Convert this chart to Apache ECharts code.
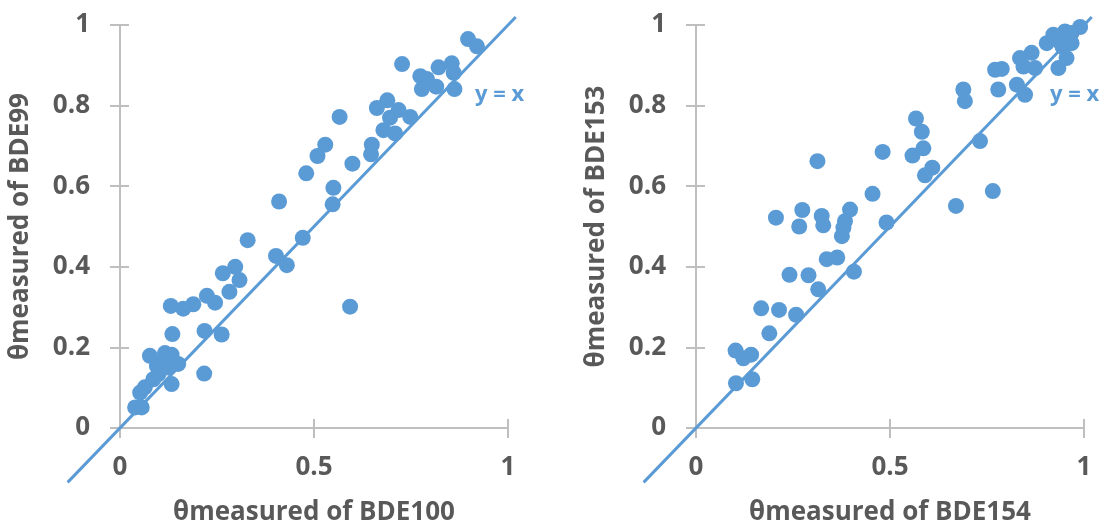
<!DOCTYPE html>
<html>
<head>
<meta charset="utf-8">
<script src="https://cdn.jsdelivr.net/npm/echarts@6/dist/echarts.min.js"></script>
<style>
  html, body { margin: 0; padding: 0; background: #fff; }
  #chart { width: 1108px; height: 531px; }
</style>
</head>
<body>
<div id="chart"></div>
<script>
// left panel: BDE100 (x) vs BDE99 (y)
const bde100 = [0.897, 0.92, 0.727, 0.855, 0.821, 0.774, 0.791, 0.86, 0.778, 0.815, 0.862, 0.689, 0.662, 0.566, 0.718, 0.696, 0.748, 0.679, 0.709, 0.529, 0.509, 0.649, 0.647, 0.48, 0.599, 0.55, 0.41, 0.548, 0.471, 0.329, 0.402, 0.43, 0.297, 0.265, 0.308, 0.282, 0.224, 0.245, 0.131, 0.163, 0.189, 0.593, 0.135, 0.218, 0.262, 0.077, 0.116, 0.133, 0.15, 0.095, 0.217, 0.133, 0.103, 0.086, 0.064, 0.052, 0.039, 0.056, 0.112, 0.099, 0.12, 0.105, 0.125];
const bde99 = [0.965, 0.947, 0.903, 0.905, 0.895, 0.873, 0.866, 0.881, 0.841, 0.847, 0.841, 0.813, 0.794, 0.772, 0.789, 0.77, 0.772, 0.739, 0.731, 0.703, 0.675, 0.703, 0.679, 0.632, 0.656, 0.596, 0.562, 0.555, 0.472, 0.466, 0.427, 0.404, 0.40, 0.384, 0.367, 0.338, 0.328, 0.311, 0.303, 0.296, 0.307, 0.301, 0.233, 0.241, 0.232, 0.179, 0.186, 0.182, 0.159, 0.154, 0.135, 0.109, 0.142, 0.121, 0.101, 0.088, 0.051, 0.051, 0.167, 0.134, 0.175, 0.16, 0.15];

// right panel: BDE154 (x) vs BDE153 (y)
const bde154 = [0.99, 0.921, 0.951, 0.968, 0.904, 0.938, 0.968, 0.955, 0.934, 0.865, 0.835, 0.844, 0.874, 0.771, 0.788, 0.827, 0.848, 0.779, 0.689, 0.693, 0.567, 0.582, 0.732, 0.481, 0.586, 0.558, 0.313, 0.609, 0.59, 0.765, 0.455, 0.67, 0.206, 0.274, 0.266, 0.324, 0.328, 0.397, 0.384, 0.38, 0.376, 0.491, 0.337, 0.364, 0.407, 0.241, 0.29, 0.315, 0.168, 0.214, 0.258, 0.189, 0.102, 0.122, 0.142, 0.103, 0.145, 0.96, 0.945];
const bde153 = [0.995, 0.976, 0.984, 0.98, 0.955, 0.959, 0.955, 0.918, 0.893, 0.931, 0.918, 0.897, 0.893, 0.889, 0.891, 0.852, 0.827, 0.84, 0.84, 0.811, 0.768, 0.735, 0.712, 0.685, 0.694, 0.676, 0.662, 0.646, 0.627, 0.588, 0.581, 0.551, 0.522, 0.541, 0.50, 0.526, 0.503, 0.542, 0.513, 0.497, 0.476, 0.51, 0.419, 0.423, 0.388, 0.38, 0.379, 0.344, 0.297, 0.293, 0.281, 0.235, 0.192, 0.173, 0.182, 0.111, 0.121, 0.965, 0.945];

// y = x reference line runs from lineEnds[0] to lineEnds[1]
const lineEnds = [-0.135, 1.02];

const xTicks = ['0', '0.5', '1'];
const yTicks = ['0', '0.2', '0.4', '0.6', '0.8', '1'];

const blue = '#5B9BD5';
const gray = '#BFBFBF';
const textGray = '#595959';
const font = 'Open Sans';

const zip = (xs, ys) => xs.map((x, i) => [x, ys[i]]);

const labelStyle = { fontSize: 26, fontWeight: 'bold', color: textGray, fontFamily: font };
const nameStyle = { fontSize: 26, fontWeight: 'bold', color: textGray, fontFamily: font };

function xAxes(gridIndex, name) {
  const base = { gridIndex, type: 'value', min: 0, max: 1, interval: 0.5, splitLine: { show: false } };
  return [
    {
      ...base,
      axisLine: { show: true, onZero: false, lineStyle: { color: gray, width: 2 } },
      axisTick: { show: true, length: 10, lineStyle: { color: gray, width: 2 } },
      axisLabel: { ...labelStyle, margin: 27, formatter: (v) => xTicks[Math.round(v / 0.5)] },
      name, nameLocation: 'middle', nameGap: 72, nameTextStyle: nameStyle
    },
    {
      ...base,
      position: 'bottom',
      axisLine: { show: false },
      axisTick: { show: true, inside: true, length: 9, lineStyle: { color: gray, width: 2 } },
      axisLabel: { show: false }
    }
  ];
}

function yAxes(gridIndex, name) {
  const base = { gridIndex, type: 'value', min: 0, max: 1, interval: 0.2, splitLine: { show: false } };
  return [
    {
      ...base,
      axisLine: { show: true, onZero: false, lineStyle: { color: gray, width: 2 } },
      axisTick: { show: true, length: 10, lineStyle: { color: gray, width: 2 } },
      axisLabel: { ...labelStyle, margin: 30, formatter: (v) => yTicks[Math.round(v / 0.2)] },
      name, nameLocation: 'middle', nameGap: 86, nameTextStyle: nameStyle
    },
    {
      ...base,
      position: 'left',
      axisLine: { show: false },
      axisTick: { show: true, inside: true, length: 9, lineStyle: { color: gray, width: 2 } },
      axisLabel: { show: false }
    }
  ];
}

function panelSeries(axisIndex, xs, ys) {
  return [
    {
      // y = x drawn through the axis scales, extended past the plot box like the original
      type: 'custom',
      xAxisIndex: axisIndex,
      yAxisIndex: axisIndex,
      clip: false,
      data: [lineEnds],
      renderItem: (params, api) => {
        const p0 = api.coord([0, 0]);
        const p1 = api.coord([1, 1]);
        const at = (t) => [p0[0] + (p1[0] - p0[0]) * t, p0[1] + (p1[1] - p0[1]) * t];
        const a = at(api.value(0));
        const b = at(api.value(1));
        return {
          type: 'line',
          shape: { x1: a[0], y1: a[1], x2: b[0], y2: b[1] },
          style: { stroke: blue, lineWidth: 3 }
        };
      },
      z: 2
    },
    {
      type: 'scatter',
      xAxisIndex: axisIndex,
      yAxisIndex: axisIndex,
      data: zip(xs, ys),
      symbolSize: 16,
      itemStyle: { color: blue, opacity: 1 },
      z: 3
    }
  ];
}

const chart = echarts.init(document.getElementById('chart'));

chart.setOption({
  animation: false,
  grid: [
    { left: 120, top: 25, width: 388, height: 404 },
    { left: 696, top: 25, width: 388, height: 404 }
  ],
  xAxis: [...xAxes(0, 'θmeasured of BDE100'), ...xAxes(1, 'θmeasured of BDE154')],
  yAxis: [...yAxes(0, 'θmeasured of BDE99'), ...yAxes(1, 'θmeasured of BDE153')],
  series: [...panelSeries(0, bde100, bde99), ...panelSeries(2, bde154, bde153)],
  graphic: [
    { type: 'text', left: 475, top: 84, style: { text: 'y = x', fill: blue, font: 'bold 22px "Open Sans"' } },
    { type: 'text', left: 1050, top: 84, style: { text: 'y = x', fill: blue, font: 'bold 22px "Open Sans"' } }
  ]
});
</script>
</body>
</html>
